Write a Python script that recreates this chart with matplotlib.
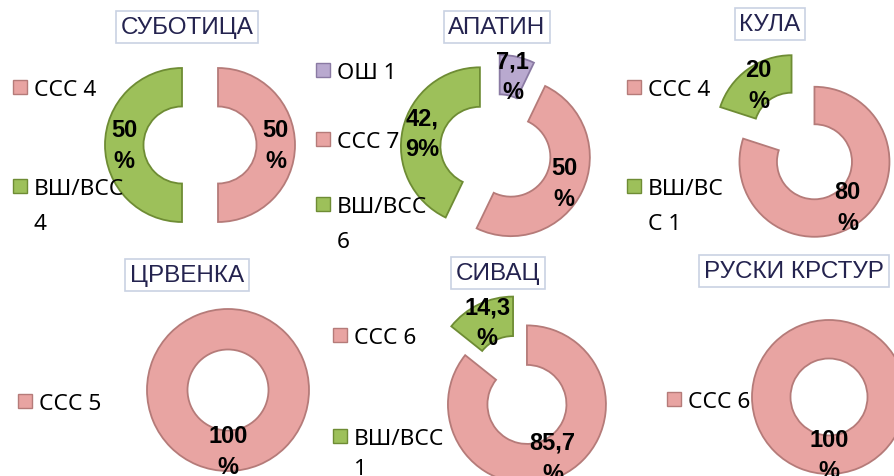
import matplotlib
matplotlib.use("Agg")
import matplotlib.pyplot as plt
from matplotlib.patches import Rectangle

W, H = 894, 477

titles = ["СУБОТИЦА", "АПАТИН", "КУЛА", "ЦРВЕНКА", "СИВАЦ", "РУСКИ КРСТУР"]
categories = [
    ["ССС", "ВШ/ВСС"],
    ["ОШ", "ССС", "ВШ/ВСС"],
    ["ССС", "ВШ/ВСС"],
    ["ССС"],
    ["ССС", "ВШ/ВСС"],
    ["ССС"],
]
counts = [[4, 4], [1, 7, 6], [4, 1], [5], [6, 1], [6]]
legend_labels = [
    ["ССС 4", "ВШ/ВСС\n4"],
    ["ОШ 1", "ССС 7", "ВШ/ВСС\n6"],
    ["ССС 4", "ВШ/ВС\nС 1"],
    ["ССС 5"],
    ["ССС 6", "ВШ/ВСС\n1"],
    ["ССС 6"],
]
pct_labels = [
    ["50\n%", "50\n%"],
    ["7,1\n%", "50\n%", "42,\n9%"],
    ["80\n%", "20\n%"],
    ["100\n%"],
    ["85,7\n%", "14,3\n%"],
    ["100\n%"],
]

colors = {"ССС": "#E8A4A2", "ВШ/ВСС": "#9DC05A", "ОШ": "#B9A9CF"}
edges = {"ССС": "#B57B79", "ВШ/ВСС": "#6E8C34", "ОШ": "#8A7AA3"}

# layout in pixels: donut centre, outer radius, explode distance
centres = [(200, 146), (496, 151), (803, 147), (228, 391), (520, 391), (829, 398)]
radii = [77, 79, 75, 81, 79, 77]
explode_px = [18, 16.5, 19.5, 0, 16, 0]
title_pos = [(187, 28), (497, 28), (770, 25), (187, 276), (498, 274), (794, 272)]
legend_x = [13, 316, 627, 18, 333, 667]
legend_y = [[88, 187], [71, 140, 205], [88, 187], [402], [336, 437], [400]]
line_step = [35, 35, 35, 35, 30, 35]

fig = plt.figure(figsize=(W / 100, H / 100), dpi=100)

for i in range(6):
    cx, cy = centres[i]
    R = radii[i]
    ax = fig.add_axes([(cx - 1.5 * R) / W, (H - cy - 1.5 * R) / H, 3 * R / W, 3 * R / H])
    ex = [explode_px[i] / R] * len(counts[i])
    wedges, texts = ax.pie(
        counts[i],
        explode=ex,
        startangle=90,
        counterclock=False,
        colors=[colors[c] for c in categories[i]],
        labels=pct_labels[i],
        labeldistance=0.75,
        wedgeprops=dict(width=0.5, linewidth=1.3),
        textprops=dict(fontsize=17, fontweight="bold", family=["Liberation Sans", "DejaVu Sans"],
                       linespacing=1.45, zorder=5),
    )
    for w, c in zip(wedges, categories[i]):
        w.set_edgecolor(edges[c])
    for t in texts:
        t.set_ha("center")
        t.set_va("center")
    ax.set_xlim(-1.5, 1.5)
    ax.set_ylim(-1.5, 1.5)
    ax.set_axis_off()

# overlay for titles and legends, in pixel coordinates
ov = fig.add_axes([0, 0, 1, 1])
ov.set_xlim(0, W)
ov.set_ylim(H, 0)
ov.set_axis_off()
ov.patch.set_alpha(0)

for i in range(6):
    tx, ty = title_pos[i]
    ov.text(tx, ty, titles[i], ha="center", va="center", fontsize=17.5, color="#24234F",
            family=["Liberation Sans", "DejaVu Sans"],
            bbox=dict(boxstyle="square,pad=0.2", facecolor="white", edgecolor="#C9D2E3", linewidth=1.2))
    for lab, cat, y in zip(legend_labels[i], categories[i], legend_y[i]):
        ov.add_patch(Rectangle((legend_x[i], y - 7), 14, 14, facecolor=colors[cat],
                               edgecolor=edges[cat], linewidth=1))
        for k, line in enumerate(lab.split("\n")):
            ov.text(legend_x[i] + 21, y + 8 + k * line_step[i], line, ha="left", va="baseline",
                    fontsize=16.3, family=["Noto Sans", "DejaVu Sans"], color="black")

fig.savefig("out.png", dpi=100)
